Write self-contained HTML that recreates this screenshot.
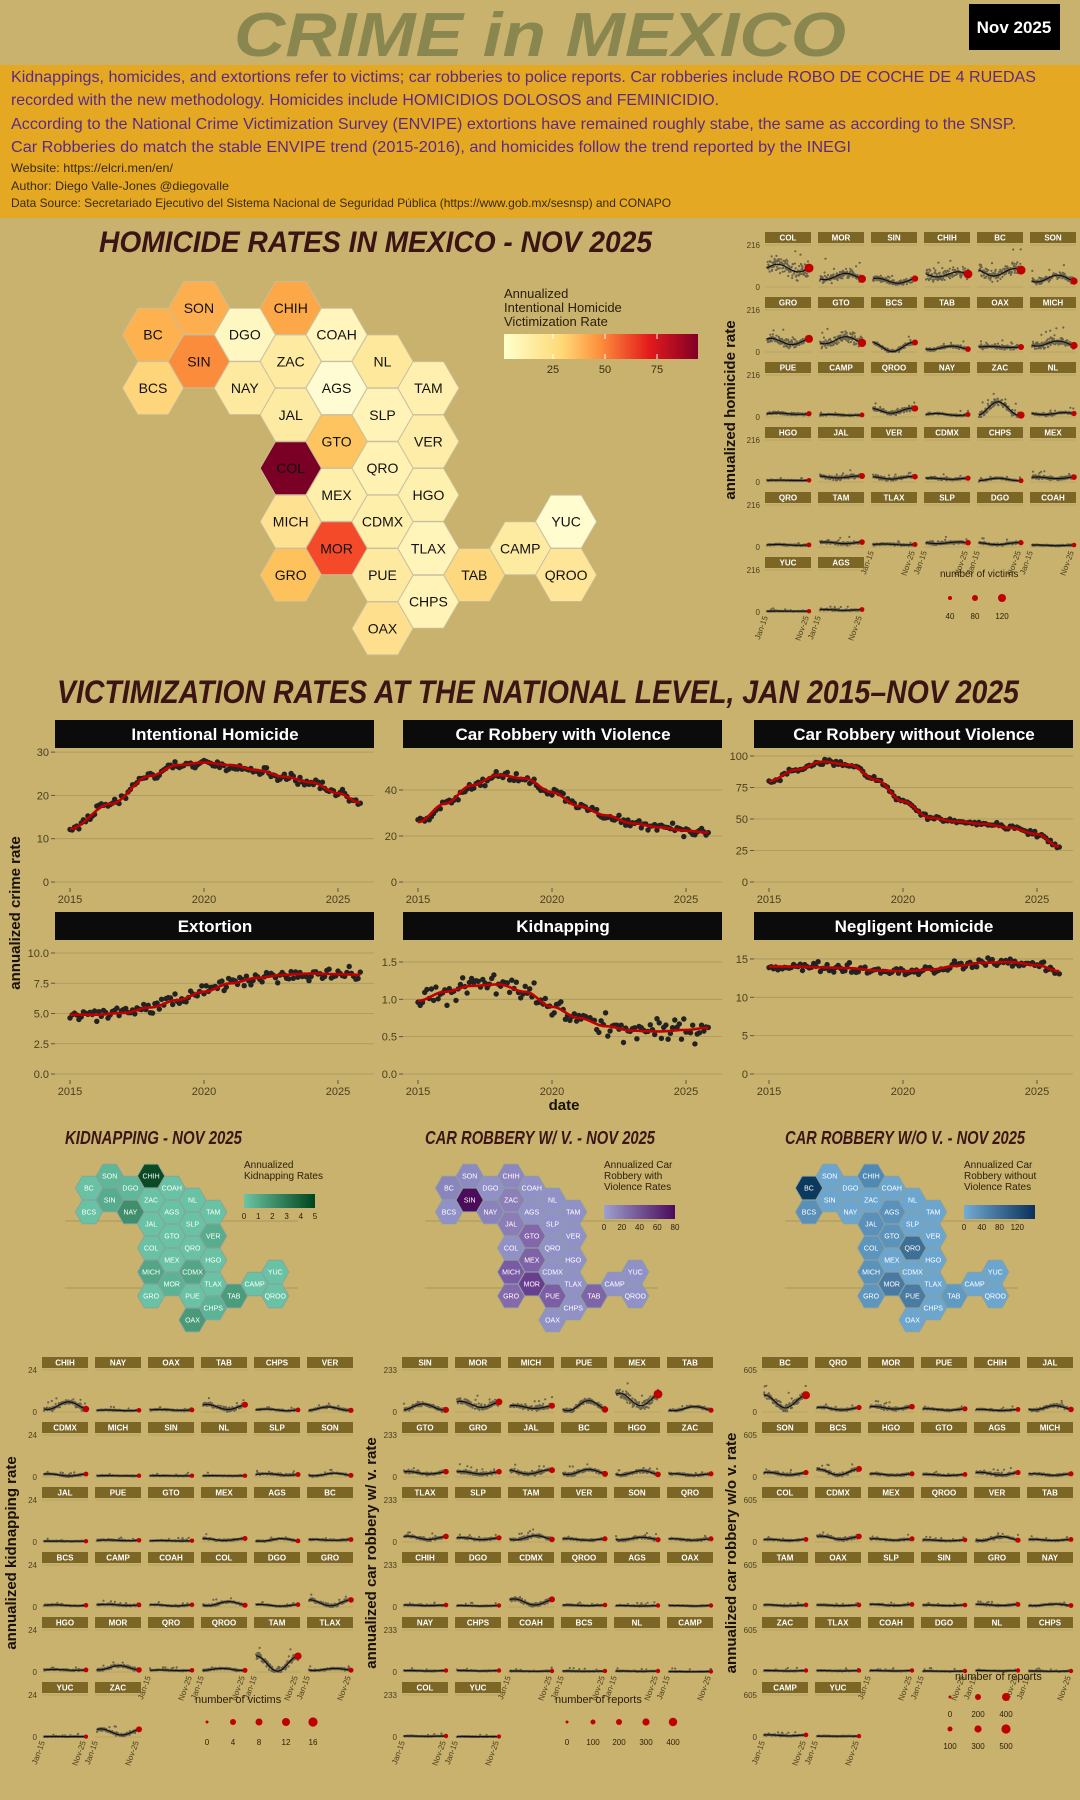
<!DOCTYPE html>
<html><head><meta charset="utf-8">
<style>
html,body{margin:0;padding:0;background:#c8b26e;}
svg{display:block}
text{font-family:"Liberation Sans",sans-serif;}
</style></head>
<body>
<svg id="s" width="1080" height="1800" viewBox="0 0 1080 1800" xmlns="http://www.w3.org/2000/svg"></svg>
<script>
var o=[];
function A(s){o.push(s);}
var seed=12345;function rnd(){seed=(seed*1103515245+12345)%2147483648;return seed/2147483648;}
function gauss(){return (rnd()+rnd()+rnd()-1.5)/1.5;}
A('<rect width="1080" height="1800" fill="#c8b26e"/>');
// header
A('<text x="540" y="56" text-anchor="middle" font-size="62" font-weight="bold" font-style="italic" fill="#8a8650" textLength="612" lengthAdjust="spacingAndGlyphs">CRIME in MEXICO</text>');
A('<rect x="969" y="4" width="91" height="46" fill="#000"/>');
A('<text x="1014" y="33" text-anchor="middle" font-size="17" font-weight="bold" fill="#fff">Nov 2025</text>');
A('<rect x="0" y="65" width="1080" height="153" fill="#e5a823"/>');
var L=[["Kidnappings, homicides, and extortions refer to victims; car robberies to police reports. Car robberies include ROBO DE COCHE DE 4 RUEDAS",82,1025],
["recorded with the new methodology. Homicides include HOMICIDIOS DOLOSOS and FEMINICIDIO.",105,708],
["According to the National Crime Victimization Survey (ENVIPE) extortions have remained roughly stabe, the same as according to the SNSP.",129,1005],
["Car Robberies do match the stable ENVIPE trend (2015-2016), and homicides follow the trend reported by the INEGI",152,840]];
L.forEach(function(l){A('<text x="11" y="'+l[1]+'" font-size="16" fill="#5b2a86" textLength="'+l[2]+'" lengthAdjust="spacingAndGlyphs">'+l[0]+'</text>');});
[["Website: https://elcri.men/en/",172,162],["Author: Diego Valle-Jones @diegovalle",190,218],["Data Source: Secretariado Ejecutivo del Sistema Nacional de Seguridad Pública (https://www.gob.mx/sesnsp) and CONAPO",207,660]].forEach(function(l){A('<text x="11" y="'+l[1]+'" font-size="12" fill="#3a2a10" textLength="'+l[2]+'" lengthAdjust="spacingAndGlyphs">'+l[0]+'</text>');});

function title(x,y,w,fs,t){A('<text x="'+x+'" y="'+y+'" font-size="'+fs+'" font-weight="bold" font-style="italic" fill="#3b1414" textLength="'+w+'" lengthAdjust="spacingAndGlyphs">'+t+'</text>');}
title(99,252,553,30,"HOMICIDE RATES IN MEXICO - NOV 2025");

var G={BC:[0,1],SON:[1,0],BCS:[0,3],SIN:[1,2],DGO:[2,1],NAY:[2,3],CHIH:[3,0],ZAC:[3,2],JAL:[3,4],COL:[3,6],MICH:[3,8],GRO:[3,10],COAH:[4,1],AGS:[4,3],GTO:[4,5],MEX:[4,7],MOR:[4,9],NL:[5,2],SLP:[5,4],QRO:[5,6],CDMX:[5,8],PUE:[5,10],OAX:[5,12],TAM:[6,3],VER:[6,5],HGO:[6,7],TLAX:[6,9],CHPS:[6,11],TAB:[7,10],CAMP:[8,9],YUC:[9,8],QROO:[9,10]};
function hex(cx,cy,r){var h=r*0.866;return [[cx+r,cy],[cx+r/2,cy-h],[cx-r/2,cy-h],[cx-r,cy],[cx-r/2,cy+h],[cx+r/2,cy+h]].map(function(p){return p[0].toFixed(1)+','+p[1].toFixed(1);}).join(' ');}
function hexmap(x0,y0,dc,dk,r,cols,base,fs,tc,stroke){for(var k in G){var cx=x0+G[k][0]*dc,cy=y0+G[k][1]*dk;A('<polygon points="'+hex(cx,cy,r)+'" fill="'+(cols[k]||base)+'" stroke="'+stroke+'" stroke-width="0.8"/>');A('<text x="'+cx.toFixed(1)+'" y="'+(cy+fs*0.36).toFixed(1)+'" text-anchor="middle" font-size="'+fs+'" fill="'+tc+'">'+k+'</text>');}}
var HC={SON:"#fdae4f",BC:"#fdb14f",CHIH:"#fda848",SIN:"#fb8c3c",DGO:"#fff7c2",COAH:"#fff5bd",ZAC:"#feeaa0",NL:"#fee89c",BCS:"#fed57a",NAY:"#fee9a1",AGS:"#fffbd2",TAM:"#fff0b0",JAL:"#feeba3",SLP:"#fff3b8",GTO:"#fec45f",VER:"#feeda8",COL:"#7b0025",QRO:"#fff2b3",MEX:"#feefab",HGO:"#fef0ae",MICH:"#fee292",CDMX:"#feefaa",YUC:"#fffcd0",MOR:"#f44a2a",TLAX:"#fff4ba",CAMP:"#feeba2",GRO:"#fec25d",PUE:"#fee9a0",TAB:"#fed87f",QROO:"#fee598",CHPS:"#fff3b7",OAX:"#fedf8e"};
hexmap(153,308,45.9,26.7,30.5,HC,"#fff0b0",14,"#111","#c8c0a0");
A('<defs><linearGradient id="g1"><stop offset="0" stop-color="#ffffcc"/><stop offset="0.3" stop-color="#fed976"/><stop offset="0.5" stop-color="#fd8d3c"/><stop offset="0.75" stop-color="#e31a1c"/><stop offset="1" stop-color="#800026"/></linearGradient>'+
'<linearGradient id="g2"><stop offset="0" stop-color="#6cc4a4"/><stop offset="1" stop-color="#00441b"/></linearGradient>'+
'<linearGradient id="g3"><stop offset="0" stop-color="#9ea0d0"/><stop offset="1" stop-color="#4a0a5a"/></linearGradient>'+
'<linearGradient id="g4"><stop offset="0" stop-color="#74acd4"/><stop offset="1" stop-color="#08305a"/></linearGradient></defs>');
["Annualized","Intentional Homicide","Victimization Rate"].forEach(function(t,i){A('<text x="504" y="'+(298+i*14)+'" font-size="13" fill="#2a1e08">'+t+'</text>');});
A('<rect x="504" y="334" width="194" height="25" fill="url(#g1)"/>');
[[553,25],[605,50],[657,75]].forEach(function(p){A('<line x1="'+p[0]+'" y1="334" x2="'+p[0]+'" y2="339" stroke="#fff"/><line x1="'+p[0]+'" y1="354" x2="'+p[0]+'" y2="359" stroke="#fff"/><text x="'+p[0]+'" y="373" text-anchor="middle" font-size="11" fill="#3a2e10">'+p[1]+'</text>');});

function smalls(x0,y0,rows,top,lv,ytitle,ytx,yty){
  A('<text transform="translate('+ytx+','+yty+') rotate(-90)" text-anchor="middle" font-size="15" font-weight="bold" fill="#1a1208">'+ytitle+'</text>');
  var nrows=rows.length;
  rows.forEach(function(r,ri){
    r.forEach(function(st,ci){
      var sx=x0+ci*53,sy=y0+ri*65,py0=sy+13,py1=sy+55;
      A('<rect x="'+sx+'" y="'+sy+'" width="46" height="11" fill="#7b6626"/>');
      A('<text x="'+(sx+23)+'" y="'+(sy+8.5)+'" text-anchor="middle" font-size="8" font-weight="bold" fill="#fff">'+st+'</text>');
      A('<line x1="'+sx+'" y1="'+py0+'" x2="'+(sx+46)+'" y2="'+py0+'" stroke="#a8965a" stroke-width="0.6"/>');
      A('<line x1="'+sx+'" y1="'+py1+'" x2="'+(sx+46)+'" y2="'+py1+'" stroke="#a8965a" stroke-width="0.6"/>');
      if(ci==0){A('<text x="'+(sx-5)+'" y="'+(py0+3)+'" text-anchor="end" font-size="8" fill="#4a3f1f">'+top+'</text><text x="'+(sx-5)+'" y="'+(py1+3)+'" text-anchor="end" font-size="8" fill="#4a3f1f">0</text>');}
      var p=lv[st]||[0.05,0,0];var lvl=p[0],amp=p[1],ph=p[2];
      var H=py1-py0,pts='',line='';
      for(var i=0;i<130;i++){var t=i/129;var v=lvl*(1+amp*Math.sin(ph+t*6.28));var x=sx+2+t*42;
        var n=v+gauss()*Math.max(lvl,0.03)*0.6;if(rnd()<0.04)n+=rnd()*Math.max(lvl,0.05)*1.5;if(n<0)n=Math.abs(n)*0.3;if(n>1)n=1;
        pts+='<circle cx="'+x.toFixed(1)+'" cy="'+(py1-n*H).toFixed(1)+'" r="1.1"/>';
        line+=(i?'L':'M')+x.toFixed(1)+','+(py1-v*H).toFixed(1);}
      A('<g fill="#5a5548" opacity="0.85">'+pts+'</g><path d="'+line+'" fill="none" stroke="#111" stroke-width="1.2"/>');
      var ev=lvl*(1+amp*Math.sin(ph+6.28));A('<circle cx="'+(sx+44)+'" cy="'+(py1-ev*H).toFixed(1)+'" r="'+(2+Math.min(2.5,lvl*8)).toFixed(1)+'" fill="#c00000"/>');
      var last=(ri==nrows-1)||(ri==nrows-2&&ci>=rows[nrows-1].length);
      if(last){[["Jan-15",sx+3],["Nov-25",sx+44]].forEach(function(q){A('<text transform="translate('+q[1]+','+(py1+5)+') rotate(-70)" text-anchor="end" font-size="8" fill="#4a3f1f">'+q[0]+'</text>');});}
    });
  });
}
var hl={COL:[.45,.2,0],MOR:[.25,.3,4],SIN:[.15,.4,1],CHIH:[.3,.2,3],BC:[.35,.25,2.5],SON:[.2,.4,4],GRO:[.25,.3,1],GTO:[.28,.3,4],BCS:[.12,.9,1.8],TAB:[.1,.4,4],OAX:[.12,.1,0],MICH:[.2,.3,4],PUE:[.08,.2,0],CAMP:[.05,.2,0],QROO:[.15,.4,2],NAY:[.06,.4,0],ZAC:[.2,.8,5],NL:[.08,.3,3],HGO:[.04,.1,0],JAL:[.12,.2,2],VER:[.1,.3,2],CDMX:[.08,.2,1],CHPS:[.06,.5,5],MEX:[.1,.2,1],QRO:[.05,.2,0],TAM:[.1,.2,1],TLAX:[.06,.2,0],SLP:[.1,.2,3],DGO:[.08,.3,2],COAH:[.04,.2,1],YUC:[.02,.1,0],AGS:[.05,.2,1]};
smalls(765,232,[["COL","MOR","SIN","CHIH","BC","SON"],["GRO","GTO","BCS","TAB","OAX","MICH"],["PUE","CAMP","QROO","NAY","ZAC","NL"],["HGO","JAL","VER","CDMX","CHPS","MEX"],["QRO","TAM","TLAX","SLP","DGO","COAH"],["YUC","AGS"]],"216",hl,"annualized homicide rate",735,410);
A('<text x="940" y="577" font-size="10" fill="#2a1e08">number of victims</text>');
[[950,2],[975,3],[1002,4]].forEach(function(p,i){A('<circle cx="'+p[0]+'" cy="598" r="'+p[1]+'" fill="#c00000"/><text x="'+p[0]+'" y="619" text-anchor="middle" font-size="8" fill="#2a1e08">'+[40,80,120][i]+'</text>');});

title(57,703,962,32,"VICTIMIZATION RATES AT THE NATIONAL LEVEL, JAN 2015–NOV 2025");
function interp(k,t){for(var i=0;i<k.length-1;i++){if(t<=k[i+1][0]){var f=(t-k[i][0])/(k[i+1][0]-k[i][0]);f=(1-Math.cos(f*Math.PI))/2;return k[i][1]+(k[i+1][1]-k[i][1])*f;}}return k[k.length-1][1];}
function nat(sx,sy,name,ymax,yzero,ppu,ticks,knots,noise){
  A('<rect x="'+sx+'" y="'+sy+'" width="319" height="28" fill="#0b0b0b"/>');
  A('<text x="'+(sx+160)+'" y="'+(sy+20)+'" text-anchor="middle" font-size="17" font-weight="bold" fill="#fff">'+name+'</text>');
  ticks.forEach(function(t){var y=yzero-t[0]*ppu;A('<line x1="'+sx+'" y1="'+y+'" x2="'+(sx+319)+'" y2="'+y+'" stroke="#a8965a" stroke-width="0.8"/><line x1="'+(sx-4)+'" y1="'+y+'" x2="'+sx+'" y2="'+y+'" stroke="#555"/><text x="'+(sx-6)+'" y="'+(y+4)+'" text-anchor="end" font-size="11" fill="#4a3f1f">'+t[1]+'</text>');});
  [0,5,10].forEach(function(d){var x=sx+15+d*26.8;A('<line x1="'+x+'" y1="'+(yzero+6)+'" x2="'+x+'" y2="'+(yzero+10)+'" stroke="#555"/><text x="'+x+'" y="'+(yzero+21)+'" text-anchor="middle" font-size="11" fill="#4a3f1f">'+(2015+d)+'</text>');});
  var pts='',line='';
  for(var i=0;i<131;i++){var t=i/12;var v=interp(knots,t);var x=sx+15+t*26.8;var n=v+gauss()*noise;
    pts+='<circle cx="'+x.toFixed(1)+'" cy="'+(yzero-n*ppu).toFixed(1)+'" r="2.7"/>';
    line+=(i?'L':'M')+x.toFixed(1)+','+(yzero-v*ppu).toFixed(1);}
  A('<g fill="#222">'+pts+'</g><path d="'+line+'" fill="none" stroke="#c00000" stroke-width="2.6"/>');
}
nat(55,720,"Intentional Homicide",30,882,4.33,[[0,"0"],[10,"10"],[20,"20"],[30,"30"]],[[0,12.3],[1.5,18],[3,24.5],[4,27],[5,27.6],[6,27],[7,25.8],[8,24.3],[9,23],[10,20.5],[10.83,18.3]],1.5);
nat(403,720,"Car Robbery with Violence",56,882,2.3,[[0,"0"],[20,"20"],[40,"40"]],[[0,26],[1,34],[2,42],[3,46.5],[4,45],[5,39],[6,33],[7,29],[8,25.5],[9,23.8],[10,22.3],[10.83,21.5]],3.4);
nat(754,720,"Car Robbery without Violence",100,882,1.26,[[0,"0"],[25,"25"],[50,"50"],[75,"75"],[100,"100"]],[[0,80],[1,89],[2,95.5],[3,93],[4,81],[5,64],[6,51],[7,48],[8,46],[9,43],[10,38],[10.83,28]],3);
nat(55,912,"Extortion",10,1074,12.1,[[0,"0.0"],[2.5,"2.5"],[5,"5.0"],[7.5,"7.5"],[10,"10.0"]],[[0,4.9],[1,4.9],[2,5.05],[3,5.5],[4,6.1],[5,6.8],[6,7.5],[7,7.95],[8,8.2],[9,8.3],[10,8.25],[10.83,8.2]],0.8);
nat(403,912,"Kidnapping",1.5,1074,74.7,[[0,"0.0"],[0.5,"0.5"],[1,"1.0"],[1.5,"1.5"]],[[0,0.98],[1,1.1],[2,1.18],[3,1.2],[4,1.1],[5,0.9],[6,0.75],[7,0.64],[8,0.58],[9,0.57],[10,0.59],[10.83,0.62]],0.22);
nat(754,912,"Negligent Homicide",15,1074,7.67,[[0,"0"],[5,"5"],[10,"10"],[15,"15"]],[[0,14],[1,14],[2,13.9],[3,13.8],[4,13.5],[5,13.4],[6,13.6],[7,14.1],[8,14.5],[9,14.6],[10,14.2],[10.83,13.4]],0.9);
A('<text transform="translate(20,913) rotate(-90)" text-anchor="middle" font-size="15" font-weight="bold" fill="#1a1208">annualized crime rate</text>');
A('<text x="564" y="1110" text-anchor="middle" font-size="15" font-weight="bold" fill="#1a1208">date</text>');

function smallmap(off,ttl,tw,cols,base,grad,legT,ticks){
  title(65+off,1144,tw,18,ttl);
  A('<line x1="'+(65+off)+'" y1="1221" x2="'+(298+off)+'" y2="1221" stroke="#a8965a"/><line x1="'+(65+off)+'" y1="1288" x2="'+(298+off)+'" y2="1288" stroke="#a8965a"/>');
  hexmap(89+off,1176,20.7,12,13.6,cols,base,7,"#fff","#8aa0a0");
  legT.forEach(function(t,i){A('<text x="'+(244+off)+'" y="'+(1168+i*11)+'" font-size="10" fill="#2a1e08">'+t+'</text>');});
  var by=1168+legT.length*11+4;
  A('<rect x="'+(244+off)+'" y="'+by+'" width="71" height="14" fill="url(#'+grad+')"/>');
  ticks.forEach(function(t,i){var x=244+off+i*71/(ticks.length-1);A('<text x="'+x.toFixed(1)+'" y="'+(by+25)+'" text-anchor="middle" font-size="8" fill="#2a1e08">'+t+'</text>');});
}
smallmap(0,"KIDNAPPING - NOV 2025",177,{SIN:"#56ad8d",NAY:"#3f8f6c",CHIH:"#0a4a24",DGO:"#5fb898",VER:"#58ad8d",MICH:"#52a585",CDMX:"#52a585",MOR:"#5cb393",TAB:"#4a9c7c",OAX:"#4a9a7a",SON:"#5eb797",CHPS:"#5cb496"},"#68c2a3","g2",["Annualized","Kidnapping Rates"],["0","1","2","3","4","5"]);
smallmap(360,"CAR ROBBERY W/ V. - NOV 2025",230,{SIN:"#4b0c5b",MICH:"#7a5aa4",MOR:"#6a3e8e",GRO:"#8569ab",MEX:"#8062a8",PUE:"#7d5ea6",TAB:"#8064a8",GTO:"#8467ab",JAL:"#8c7db7",ZAC:"#8d7fb8",NAY:"#8b82bb",CHIH:"#8e86be",BC:"#8a86bd",SON:"#8c8ac0"},"#9191c8","g3",["Annualized Car","Robbery with","Violence Rates"],["0","20","40","60","80"]);
smallmap(720,"CAR ROBBERY W/O V. - NOV 2025",240,{BC:"#0c3a5f",QRO:"#3e6f97",MOR:"#4a7aa1",PUE:"#4a7ba3",CHIH:"#5089b3",BCS:"#5a90b8",JAL:"#5a90ba",GTO:"#5c93bb",AGS:"#5a92bb",MICH:"#5a92ba",COL:"#5c95bd",TAB:"#609ac2",GRO:"#5e96be"},"#6ca6cf","g4",["Annualized Car","Robbery without","Violence Rates"],["0","40","80","120",""]);

var kl={CHIH:[.15,.6,4.2],NAY:[.04,.2,0],OAX:[.05,.2,0],TAB:[.12,.5,1],CHPS:[.05,.4,0],VER:[.08,.5,5],CDMX:[.05,.5,1],MICH:[.03,.1,0],SIN:[.03,.1,0],NL:[.03,.1,0],SLP:[.06,.3,0],SON:[.06,.5,4],JAL:[.02,.1,0],PUE:[.04,.2,0],GTO:[.03,.2,0],MEX:[.06,.4,1.5],AGS:[.05,.6,4],BC:[.05,.2,1],BCS:[.04,.3,0],CAMP:[.05,.3,0],COAH:[.04,.4,1],COL:[.08,.6,4],DGO:[.04,.5,1],GRO:[.1,.7,1.5],HGO:[.05,.2,0],MOR:[.1,.5,4.5],QRO:[.04,.2,0],QROO:[.06,.4,5],TAM:[.2,.9,1.5],TLAX:[.06,.4,4],YUC:[.01,.1,0],ZAC:[.12,.6,1]};
smalls(42,1357,[["CHIH","NAY","OAX","TAB","CHPS","VER"],["CDMX","MICH","SIN","NL","SLP","SON"],["JAL","PUE","GTO","MEX","AGS","BC"],["BCS","CAMP","COAH","COL","DGO","GRO"],["HGO","MOR","QRO","QROO","TAM","TLAX"],["YUC","ZAC"]],"24",kl,"annualized kidnapping rate",16,1553);
var cl={SIN:[.12,.6,5],MOR:[.18,.4,1],MICH:[.12,.3,1],PUE:[.15,.8,4],MEX:[.3,.5,1],TAB:[.08,.6,4],GTO:[.1,.3,1],GRO:[.1,.3,1],JAL:[.12,.4,2],BC:[.12,.5,4],HGO:[.1,.5,4],ZAC:[.06,.3,1],TLAX:[.1,.4,1],SLP:[.08,.3,1],TAM:[.1,.5,4],VER:[.06,.3,1],SON:[.08,.4,4],QRO:[.06,.3,1],CHIH:[.04,.2,1],DGO:[.03,.2,1],CDMX:[.12,.6,1],QROO:[.04,.2,1],AGS:[.03,.2,1],OAX:[.03,.2,1],NAY:[.03,.2,1],CHPS:[.03,.2,1],COAH:[.02,.2,1],BCS:[.02,.2,1],NL:[.02,.2,1],CAMP:[.01,.2,1],COL:[.02,.2,1],YUC:[.01,.1,1]};
smalls(402,1357,[["SIN","MOR","MICH","PUE","MEX","TAB"],["GTO","GRO","JAL","BC","HGO","ZAC"],["TLAX","SLP","TAM","VER","SON","QRO"],["CHIH","DGO","CDMX","QROO","AGS","OAX"],["NAY","CHPS","COAH","BCS","NL","CAMP"],["COL","YUC"]],"233",cl,"annualized car robbery w/ v. rate",376,1553);
var wl={BC:[.25,.6,1.5],QRO:[.08,.4,1],MOR:[.1,.3,1],PUE:[.06,.3,1],CHIH:[.05,.3,1],JAL:[.1,.5,4],SON:[.08,.4,1],BCS:[.12,.6,1.5],HGO:[.06,.3,1],GTO:[.05,.3,1],AGS:[.08,.4,1],MICH:[.06,.3,1],COL:[.05,.3,1],CDMX:[.1,.4,1],MEX:[.06,.3,1],QROO:[.04,.3,1],VER:[.08,.6,4],TAB:[.05,.3,1],TAM:[.04,.3,1],OAX:[.04,.2,1],SLP:[.05,.3,1],SIN:[.04,.2,1],GRO:[.05,.3,1],NAY:[.05,.4,4],ZAC:[.03,.2,1],TLAX:[.03,.2,1],COAH:[.03,.2,1],DGO:[.02,.2,1],NL:[.03,.2,1],CHPS:[.02,.2,1],CAMP:[.04,.3,1],YUC:[.02,.1,1]};
smalls(762,1357,[["BC","QRO","MOR","PUE","CHIH","JAL"],["SON","BCS","HGO","GTO","AGS","MICH"],["COL","CDMX","MEX","QROO","VER","TAB"],["TAM","OAX","SLP","SIN","GRO","NAY"],["ZAC","TLAX","COAH","DGO","NL","CHPS"],["CAMP","YUC"]],"605",wl,"annualized car robbery w/o v. rate",736,1553);
A('<text x="195" y="1703" font-size="11" fill="#2a1e08">number of victims</text>');
[[207,1.5,"0"],[233,3,"4"],[259,3.5,"8"],[286,4,"12"],[313,4.6,"16"]].forEach(function(p){A('<circle cx="'+p[0]+'" cy="1722" r="'+p[1]+'" fill="#c00000"/><text x="'+p[0]+'" y="1745" text-anchor="middle" font-size="8" fill="#2a1e08">'+p[2]+'</text>');});
A('<text x="555" y="1703" font-size="11" fill="#2a1e08">number of reports</text>');
[[567,1.5,"0"],[593,2.5,"100"],[619,3,"200"],[646,3.6,"300"],[673,4.2,"400"]].forEach(function(p){A('<circle cx="'+p[0]+'" cy="1722" r="'+p[1]+'" fill="#c00000"/><text x="'+p[0]+'" y="1745" text-anchor="middle" font-size="8" fill="#2a1e08">'+p[2]+'</text>');});
A('<text x="955" y="1680" font-size="11" fill="#2a1e08">number of reports</text>');
[[950,1.5,"0",1710],[978,3,"200",1710],[1006,4,"400",1710],[950,2.5,"100",1742],[978,3.6,"300",1742],[1006,4.6,"500",1742]].forEach(function(p){A('<circle cx="'+p[0]+'" cy="'+(p[3]-13)+'" r="'+p[1]+'" fill="#c00000"/><text x="'+p[0]+'" y="'+(p[3]+7)+'" text-anchor="middle" font-size="8" fill="#2a1e08">'+p[2]+'</text>');});
document.getElementById('s').innerHTML=o.join('');
</script>
</body></html>
